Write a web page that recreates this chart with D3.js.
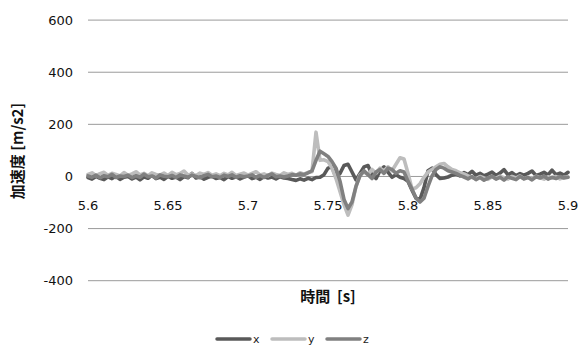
<!DOCTYPE html>
<html>
<head>
<meta charset="utf-8">
<script src="https://cdn.jsdelivr.net/npm/d3@7"></script>
<style>
  body { margin: 0; background: #fff; }
  .tick-label { font-family: "DejaVu Sans", sans-serif; font-size: 13px; fill: #111; }
  .axis-title { font-family: "Noto Sans CJK JP", sans-serif; font-size: 15px; font-weight: bold; fill: #111; }
  .legend-label { font-family: "DejaVu Sans", sans-serif; font-size: 11px; fill: #222; }
</style>
</head>
<body>
<div id="chart"></div>
<script>
// time axis: 5.6 .. 5.9 s, one sample every 2.5 ms
let tStart = 5.6, tStep = 0.0025;
let xTicks = [5.6, 5.65, 5.7, 5.75, 5.8, 5.85, 5.9];
let yTicks = [-400, -200, 0, 200, 400, 600];
let seriesNames = ["x", "y", "z"];

let accX = [
  -6,-12,-2,-9,-14,-3,-10,-1,-13,-5,
  -2,-11,-4,-15,-3,-9,3,-10,-5,-13,
  -1,-9,-4,-14,-2,-7,10,-8,-3,-12,
  -5,-1,-10,-6,-14,-2,-9,-3,-11,-4,
  1,-10,-5,-13,-2,-8,-4,-11,-3,-8,
  -10,-14,-17,-11,-16,-9,-14,-6,-5,5,
  30,35,-5,10,40,45,15,-15,10,35,
  40,5,-10,20,35,15,-5,5,-5,-10,
  -20,-55,-85,-90,-45,20,30,5,-10,-8,
  -4,3,8,0,13,5,18,3,10,1,
  7,15,2,11,24,4,13,1,9,3,
  10,19,2,7,14,4,22,5,11,3,
  14
];
let accY = [
  6,12,1,9,14,2,10,6,0,13,
  3,8,16,4,10,1,12,6,3,11,
  2,14,5,9,19,4,8,2,11,6,
  13,3,8,1,10,4,14,2,7,11,
  3,10,16,4,8,1,11,6,2,12,
  6,10,3,12,7,14,16,168,60,62,
  55,30,-10,-60,-110,-150,-110,-40,5,15,
  5,25,10,30,20,35,20,45,70,65,
  10,-50,-45,-30,-5,15,25,35,45,48,
  35,25,20,12,8,0,-6,-11,-2,-8,
  -13,-3,-9,-1,-7,-12,-2,-8,0,-11,
  -5,-10,-1,-7,-12,-3,-8,-2,-11,-5,
  -4
];
let accZ = [
  0,-5,3,-7,1,-3,6,-6,0,-2,
  3,-6,1,-5,7,-3,0,-8,4,-1,
  -3,2,-6,4,0,-5,3,-2,-7,1,
  6,-3,0,-6,3,-2,4,-5,1,-3,
  0,4,-5,2,-6,3,8,-3,0,-4,
  0,5,3,8,5,12,20,60,95,85,
  75,55,30,-20,-90,-125,-100,-40,0,20,
  5,-10,15,25,10,30,25,10,20,15,
  -20,-50,-85,-100,-85,-40,0,25,35,30,
  20,15,10,2,-4,-11,-2,-14,-6,-16,
  -8,-1,-12,-5,-16,-3,-9,-14,-2,-11,
  -6,-15,-3,-8,-1,-12,-5,-10,-2,-8,
  -5
];

let colors = { x: "#595959", y: "#bdbdbd", z: "#808080" };

let width = 579, height = 347;

let svg = d3.select("#chart").append("svg")
  .attr("width", width)
  .attr("height", height);

let xScale = d3.scaleLinear().domain([5.6, 5.9]).range([88, 568]);
let yScale = d3.scaleLinear().domain([-400, 600]).range([280.2, 19.6]);

// horizontal grid lines
svg.append("g").selectAll("line")
  .data(yTicks)
  .enter().append("line")
  .attr("x1", xScale(5.6))
  .attr("x2", xScale(5.9))
  .attr("y1", d => yScale(d) + 0.5)
  .attr("y2", d => yScale(d) + 0.5)
  .style("stroke", "#9a9a9a")
  .style("stroke-width", 1);

// y tick labels
svg.append("g").selectAll("text")
  .data(yTicks)
  .enter().append("text")
  .attr("class", "tick-label")
  .attr("x", 73)
  .attr("y", d => yScale(d) + 5)
  .attr("text-anchor", "end")
  .text(d => d);

// x tick labels (sit below the zero line)
svg.append("g").selectAll("text")
  .data(xTicks)
  .enter().append("text")
  .attr("class", "tick-label")
  .attr("x", d => xScale(d))
  .attr("y", yScale(0) + 34)
  .attr("text-anchor", "middle")
  .text(d => d);

let line = d3.line()
  .x((d, i) => xScale(tStart + i * tStep))
  .y(d => yScale(d));

let series = [
  { name: "x", values: accX },
  { name: "y", values: accY },
  { name: "z", values: accZ }
];

svg.append("g").selectAll("path")
  .data(series)
  .enter().append("path")
  .attr("d", d => line(d.values))
  .style("fill", "none")
  .style("stroke", d => colors[d.name])
  .style("stroke-width", 3.6)
  .style("stroke-linejoin", "round")
  .style("stroke-linecap", "round");

// axis titles
svg.append("text")
  .attr("class", "axis-title")
  .attr("transform", "translate(23,151) rotate(-90)")
  .attr("text-anchor", "middle")
  .text("加速度 [m/s2]");

svg.append("text")
  .attr("class", "axis-title")
  .attr("x", 328)
  .attr("y", 302)
  .attr("text-anchor", "middle")
  .style("white-space", "pre")
  .text("時間  [s]");

// legend
let legend = svg.append("g").selectAll("g")
  .data(seriesNames)
  .enter().append("g")
  .attr("transform", (d, i) => "translate(" + (217 + i * 55) + ",339)");

legend.append("line")
  .attr("x1", 0).attr("x2", 33)
  .attr("y1", 0).attr("y2", 0)
  .style("stroke", d => colors[d])
  .style("stroke-width", 3.5)
  .style("stroke-linecap", "round");

legend.append("text")
  .attr("class", "legend-label")
  .attr("x", 36)
  .attr("y", 4)
  .text(d => d);
</script>
</body>
</html>
